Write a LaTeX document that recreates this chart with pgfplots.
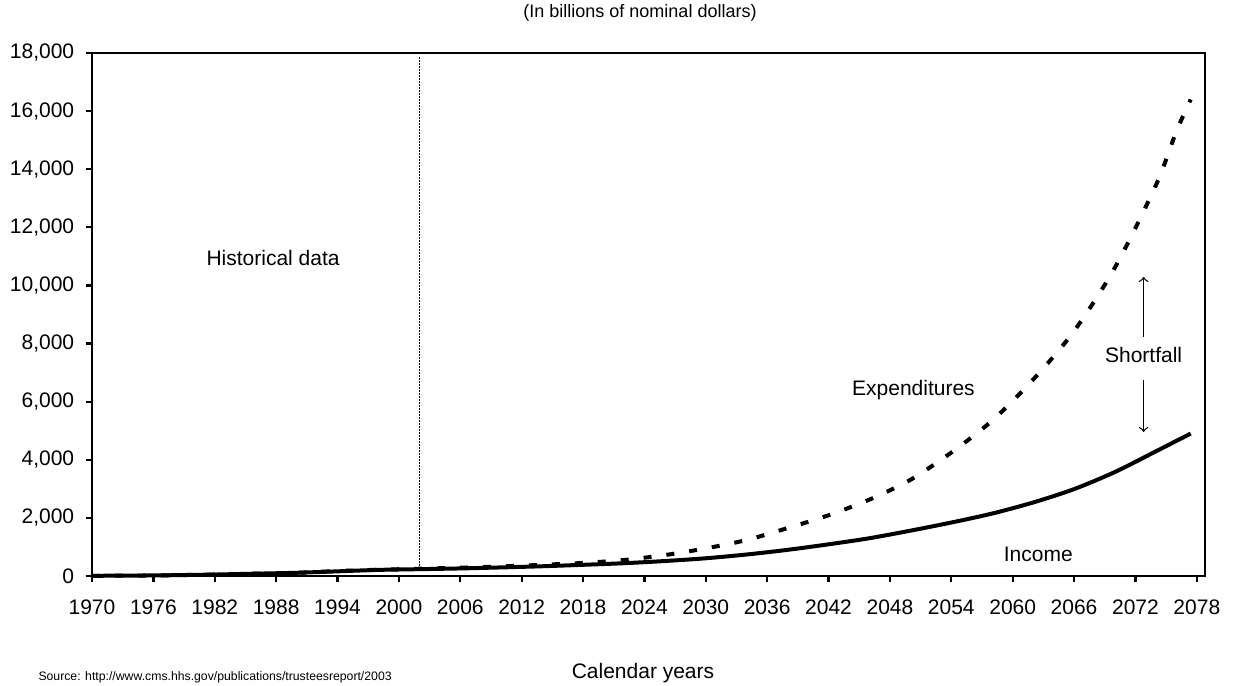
\documentclass[border=0pt]{standalone}
\usepackage{pgfplots}
\pgfplotsset{compat=1.18}
\usepackage{fontspec}
\setmainfont{Liberation Sans}
\pgfplotstableread{
year inc exp
1970 7 7
1974 13 14
1978 27 28
1982 50 52
1986 80 82
1990 110 111
1994 160 170
1998 210 215
2002 235 250
2006 260 285
2010 295 330
2014 335 385
2018 385 450
2022 440 550
2026 515 720
2030 610 950
2034 740 1240
2038 900 1650
2042 1090 2090
2046 1300 2630
2050 1560 3310
2054 1840 4250
2058 2150 5350
2062 2530 6760
2066 2990 8430
2070 3580 10620
2074 4290 13450
2076 4650 15300
2077.4 4900 16400
}\data
\begin{document}
\begin{tikzpicture}
\path[use as bounding box] (0pt,0pt) rectangle (494pt,274.4pt);
\begin{axis}[
  at={(36.8pt,44pt)}, anchor=south west,
  width=445.2pt, height=209.2pt, scale only axis,
  xmin=1970, xmax=2078.8, ymin=0, ymax=18000,
  axis line style={line width=1pt},
  xtick={1970,1976,...,2078},
  ytick={0,2000,...,18000},
  scaled y ticks=false,
  tick align=outside, tick pos=left,
  major tick length=2.6pt,
  every tick/.style={line width=0.9pt, black},
  /pgf/number format/assume math mode=true,
  yticklabel style={/pgf/number format/1000 sep={,}, font=\fontsize{8.4}{10}\selectfont, xshift=-1pt},
  xticklabel style={/pgf/number format/1000 sep={}, font=\fontsize{8.4}{10}\selectfont, yshift=-3.5pt},
  clip=false,
]
\draw[line width=0.6pt, dash pattern=on 0.7pt off 0.5pt] (axis cs:2002,240) -- (axis cs:2002,17850);
\addplot[black, line width=1.6pt, dash pattern=on 3.2pt off 6pt, smooth] table[x=year,y=exp] {\data};
\addplot[black, line width=1.6pt, smooth] table[x=year,y=inc] {\data};
\node[font=\fontsize{8.4}{10}\selectfont] at (axis cs:1987.7,10945) {Historical data};
\node[font=\fontsize{8.4}{10}\selectfont] at (axis cs:2050.3,6402) {Expenditures};
\node[font=\fontsize{8.4}{10}\selectfont] at (axis cs:2072.8,7607) {Shortfall};
\node[font=\fontsize{8.4}{10}\selectfont] at (axis cs:2062.5,757) {Income};
\draw[-to, line width=0.5pt] (axis cs:2072.8,8226) -- (axis cs:2072.8,10292);
\draw[-to, line width=0.5pt] (axis cs:2072.8,6746) -- (axis cs:2072.8,4957);
\end{axis}
\node[font=\fontsize{7.2}{9}\selectfont] at (256pt,269.2pt) {(In billions of nominal dollars)};
\node[font=\fontsize{8.4}{10}\selectfont] at (257.2pt,5pt) {Calendar years};
\node[font=\fontsize{4.9}{6}\selectfont, anchor=west, inner sep=0pt] at (15.2pt,3.6pt) {Source: http://www.cms.hhs.gov/publications/trusteesreport/2003};
\end{tikzpicture}
\end{document}
